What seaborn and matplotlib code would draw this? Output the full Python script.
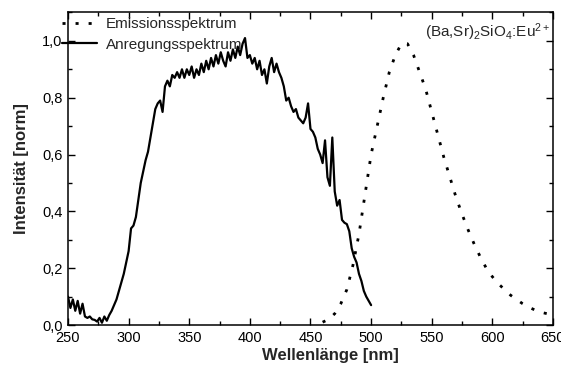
import numpy as np
import pandas as pd
import matplotlib
matplotlib.use("Agg")
import matplotlib.pyplot as plt
import seaborn as sns
from matplotlib.ticker import MultipleLocator, FuncFormatter

# Excitation spectrum (Anregungsspektrum)
exc_wl = list(range(250, 501, 2))
exc_int = [0.10, 0.06, 0.09, 0.05, 0.085, 0.04, 0.075, 0.03, 0.025, 0.03,
           0.02, 0.018, 0.012, 0.025, 0.008, 0.03, 0.015, 0.035, 0.05, 0.07,
           0.09, 0.12, 0.15, 0.18, 0.22, 0.26, 0.34, 0.35, 0.38, 0.44,
           0.50, 0.54, 0.58, 0.61, 0.66, 0.71, 0.76, 0.78, 0.79, 0.75,
           0.84, 0.86, 0.84, 0.88, 0.87, 0.89, 0.87, 0.90, 0.87, 0.90,
           0.88, 0.91, 0.87, 0.90, 0.88, 0.92, 0.89, 0.93, 0.90, 0.94,
           0.91, 0.95, 0.92, 0.96, 0.93, 0.91, 0.96, 0.93, 0.97, 0.94,
           0.98, 0.95, 0.99, 1.01, 0.94, 0.95, 0.92, 0.94, 0.90, 0.93,
           0.88, 0.90, 0.85, 0.91, 0.94, 0.89, 0.92, 0.89, 0.87, 0.84,
           0.79, 0.80, 0.77, 0.75, 0.76, 0.73, 0.72, 0.71, 0.73, 0.78,
           0.69, 0.68, 0.66, 0.62, 0.60, 0.57, 0.65, 0.52, 0.49, 0.66,
           0.47, 0.42, 0.44, 0.37, 0.36, 0.355, 0.33, 0.27, 0.24, 0.22,
           0.18, 0.155, 0.12, 0.10, 0.085, 0.07]

# Emission spectrum (Emissionsspektrum)
emi_wl = list(range(460, 646, 5))
emi_int = [0.01, 0.02, 0.04, 0.075, 0.125, 0.21, 0.32, 0.46, 0.60, 0.70,
           0.80, 0.89, 0.95, 0.99, 0.99, 0.95, 0.89, 0.83, 0.75, 0.67,
           0.59, 0.52, 0.45, 0.39, 0.335, 0.285, 0.24, 0.20, 0.17, 0.145,
           0.125, 0.105, 0.09, 0.075, 0.063, 0.053, 0.045, 0.04]

x_ticks = [250, 300, 350, 400, 450, 500, 550, 600, 650]
y_ticks = [0.0, 0.2, 0.4, 0.6, 0.8, 1.0]

sns.set_theme(style="ticks")
plt.rcParams["font.family"] = ["Liberation Sans", "DejaVu Sans"]
plt.rcParams["mathtext.fontset"] = "custom"
plt.rcParams["mathtext.rm"] = "Liberation Sans"
plt.rcParams["mathtext.it"] = "Liberation Sans:italic"
plt.rcParams["mathtext.bf"] = "Liberation Sans:bold"

fig = plt.figure(figsize=(5.61, 3.67), dpi=100)
ax = fig.add_axes([0.1212, 0.1144, 0.8645, 0.8516])

df_exc = pd.DataFrame({"wl": exc_wl, "I": exc_int})
df_emi = pd.DataFrame({"wl": emi_wl, "I": emi_int})

sns.lineplot(data=df_emi, x="wl", y="I", ax=ax, color="black", lw=2.0,
             linestyle=(0, (1.1, 3.6)), label="Emissionsspektrum", errorbar=None)
sns.lineplot(data=df_exc, x="wl", y="I", ax=ax, color="black", lw=1.6,
             label="Anregungsspektrum", errorbar=None)

ax.set_xlim(250, 650)
ax.set_ylim(0, 1.1)
ax.set_xticks(x_ticks)
ax.set_yticks(y_ticks)
ax.xaxis.set_minor_locator(MultipleLocator(25))
ax.yaxis.set_minor_locator(MultipleLocator(0.1))
ax.yaxis.set_major_formatter(FuncFormatter(lambda v, p: f"{v:.1f}".replace(".", ",")))
ax.tick_params(which="both", direction="in", top=True, right=True,
               colors="black", labelsize=10.5, width=1.0)
ax.tick_params(which="major", length=5)
ax.tick_params(which="minor", length=3)
ax.tick_params(axis="x", pad=4)
ax.tick_params(axis="y", pad=4)
for s in ax.spines.values():
    s.set_linewidth(1.1)
    s.set_color("black")

ax.set_xlabel("Wellenlänge [nm]", fontsize=12, fontweight="bold")
ax.set_ylabel("Intensität [norm]", fontsize=12, fontweight="bold")
ax.xaxis.set_label_coords(0.54, -0.075)
ax.yaxis.set_label_coords(-0.08, 0.5)

leg = ax.legend(loc="upper left", bbox_to_anchor=(-0.012, 0.985), frameon=False,
                fontsize=11, handlelength=2.3, handletextpad=0.55,
                borderpad=0, borderaxespad=0, labelspacing=0.42)

ax.text(0.995, 0.97, r"(Ba,Sr)$_2$SiO$_4$:Eu$^{2+}$", transform=ax.transAxes,
        ha="right", va="top", fontsize=11)

fig.savefig("out.png", dpi=100)
